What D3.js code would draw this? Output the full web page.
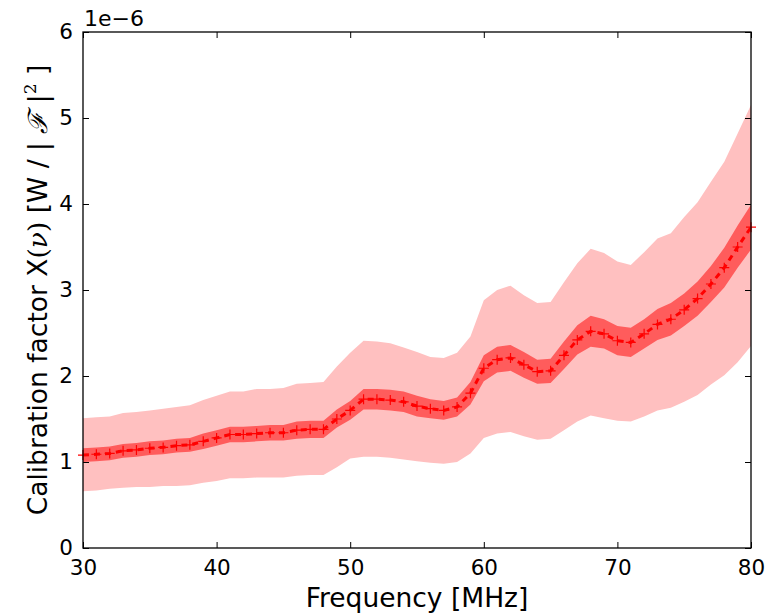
<!DOCTYPE html>
<html><head><meta charset="utf-8">
<script src="https://cdn.jsdelivr.net/npm/d3@7"></script>
<style>body{margin:0;background:#fff}svg{display:block}</style>
</head><body>
<svg id="c" width="784" height="614"></svg>
<script>
const freq = [30,31,32,33,34,35,36,37,38,39,40,41,42,43,44,45,46,47,48,49,50,51,52,53,54,55,56,57,58,59,60,61,62,63,64,65,66,67,68,69,70,71,72,73,74,75,76,77,78,79,80];
const center = [1.08,1.09,1.10,1.13,1.14,1.16,1.17,1.19,1.20,1.24,1.28,1.32,1.32,1.33,1.34,1.34,1.37,1.38,1.38,1.50,1.60,1.73,1.73,1.72,1.70,1.65,1.62,1.60,1.64,1.80,2.09,2.19,2.21,2.13,2.05,2.06,2.24,2.42,2.52,2.49,2.41,2.39,2.49,2.60,2.66,2.77,2.90,3.07,3.26,3.50,3.73];
const innerLow = [1.00,1.01,1.02,1.05,1.06,1.08,1.09,1.11,1.12,1.15,1.19,1.23,1.23,1.24,1.25,1.25,1.27,1.28,1.28,1.40,1.49,1.61,1.61,1.60,1.58,1.53,1.51,1.49,1.53,1.67,1.94,2.04,2.06,1.98,1.91,1.92,2.08,2.25,2.34,2.32,2.24,2.22,2.32,2.42,2.47,2.58,2.70,2.86,3.03,3.26,3.47];
const innerHigh = [1.16,1.17,1.18,1.21,1.22,1.24,1.25,1.27,1.28,1.33,1.37,1.41,1.41,1.42,1.43,1.43,1.47,1.48,1.48,1.61,1.71,1.85,1.85,1.84,1.82,1.77,1.73,1.71,1.75,1.93,2.24,2.34,2.36,2.28,2.19,2.20,2.40,2.59,2.70,2.66,2.58,2.56,2.66,2.78,2.85,2.96,3.10,3.28,3.49,3.75,3.99];
const outerLow = [0.66,0.67,0.69,0.70,0.71,0.71,0.72,0.72,0.73,0.76,0.78,0.81,0.81,0.82,0.82,0.82,0.84,0.85,0.85,0.94,1.04,1.06,1.06,1.05,1.03,1.01,0.99,0.98,1.00,1.10,1.28,1.33,1.35,1.30,1.26,1.27,1.37,1.47,1.54,1.51,1.48,1.47,1.53,1.60,1.63,1.70,1.78,1.90,2.01,2.16,2.35];
const outerHigh = [1.51,1.52,1.53,1.57,1.58,1.60,1.62,1.64,1.66,1.72,1.77,1.82,1.82,1.85,1.85,1.86,1.91,1.92,1.93,2.11,2.27,2.41,2.40,2.38,2.33,2.28,2.22,2.21,2.27,2.46,2.88,3.00,3.05,2.94,2.85,2.86,3.09,3.31,3.48,3.43,3.33,3.29,3.44,3.60,3.66,3.85,4.02,4.26,4.49,4.82,5.15];
const xTicks = [30,40,50,60,70,80];
const yTicks = [0,1,2,3,4,5,6];
const offsetText = "1e\u22126";

const L=83, R=751, T=32, B=548;
const svg = d3.select("#c");
const x = d3.scaleLinear().domain([30,80]).range([L,R]);
const y = d3.scaleLinear().domain([0,6]).range([B,T]);
const rows = freq.map((f,i)=>({f, c:center[i], il:innerLow[i], ih:innerHigh[i], ol:outerLow[i], oh:outerHigh[i]}));

const g = svg.append("g");
g.append("path").datum(rows).attr("fill","#ffc0c0")
  .attr("d", d3.area().x(d=>x(d.f)).y0(d=>y(d.ol)).y1(d=>y(d.oh)));
g.append("path").datum(rows).attr("fill","#ff5c5c")
  .attr("d", d3.area().x(d=>x(d.f)).y0(d=>y(d.il)).y1(d=>y(d.ih)));
g.append("path").datum(rows).attr("fill","none").attr("stroke","#ff0000")
  .attr("stroke-width",3).attr("stroke-dasharray","6,5")
  .attr("d", d3.line().x(d=>x(d.f)).y(d=>y(d.c)));
g.selectAll("path.m").data(rows).enter().append("path").attr("class","m")
  .attr("d", d=>`M${x(d.f)-5},${y(d.c)}H${x(d.f)+5}M${x(d.f)},${y(d.c)-5}V${y(d.c)+5}`)
  .attr("stroke","#ff0000").attr("stroke-width",1.2).attr("fill","none");

// axes
const font = "DejaVu Sans, sans-serif";
const tl = 6;
const ax = svg.append("g").attr("transform",`translate(0,${B})`)
  .call(d3.axisBottom(x).tickValues(xTicks).tickSize(-tl).tickPadding(12).tickFormat(d3.format("d")));
const axT = svg.append("g").attr("transform",`translate(0,${T})`)
  .call(d3.axisTop(x).tickValues(xTicks).tickSize(-tl).tickFormat(""));
const ay = svg.append("g").attr("transform",`translate(${L},0)`)
  .call(d3.axisLeft(y).tickValues(yTicks).tickSize(-tl).tickPadding(10).tickFormat(d3.format("d")));
const ayR = svg.append("g").attr("transform",`translate(${R},0)`)
  .call(d3.axisRight(y).tickValues(yTicks).tickSize(-tl).tickFormat(""));
[ax,axT,ay,ayR].forEach(a=>{
  a.select(".domain").remove();
  a.selectAll("line").attr("stroke","#000").attr("stroke-width",1);
  a.selectAll("text").attr("font-family",font).attr("font-size",21.5).attr("fill","#000");
});
svg.append("rect").attr("x",L).attr("y",T).attr("width",R-L).attr("height",B-T)
  .attr("fill","none").attr("stroke","#000").attr("stroke-width",1.3);

svg.append("text").attr("x",L+1).attr("y",T-6).attr("font-family",font).attr("font-size",22).text(offsetText);

svg.append("text").attr("x",(L+R)/2).attr("y",607).attr("text-anchor","middle")
  .attr("font-family",font).attr("font-size",26.5).text("Frequency [MHz]");

const yl = svg.append("text").attr("transform",`translate(47,${(T+B)/2}) rotate(-90)`)
  .attr("text-anchor","middle").attr("font-family",font).attr("font-size",26.5);
yl.append("tspan").text("Calibration factor X");
yl.append("tspan").attr("font-family","DejaVu Serif").text("(");
yl.append("tspan").attr("font-family","DejaVu Serif").attr("font-style","italic").text("\u03BD");
yl.append("tspan").attr("font-family","DejaVu Serif").text(")");
yl.append("tspan").text(" [W / | ");
yl.append("tspan").attr("font-family","DejaVu Serif").attr("font-style","italic").text("\u2131");
yl.append("tspan").text(" |");
yl.append("tspan").attr("font-family","DejaVu Serif").attr("font-size",17).attr("dy",-11).text("2");
yl.append("tspan").attr("dy",11).text(" ]");
</script>
</body></html>
